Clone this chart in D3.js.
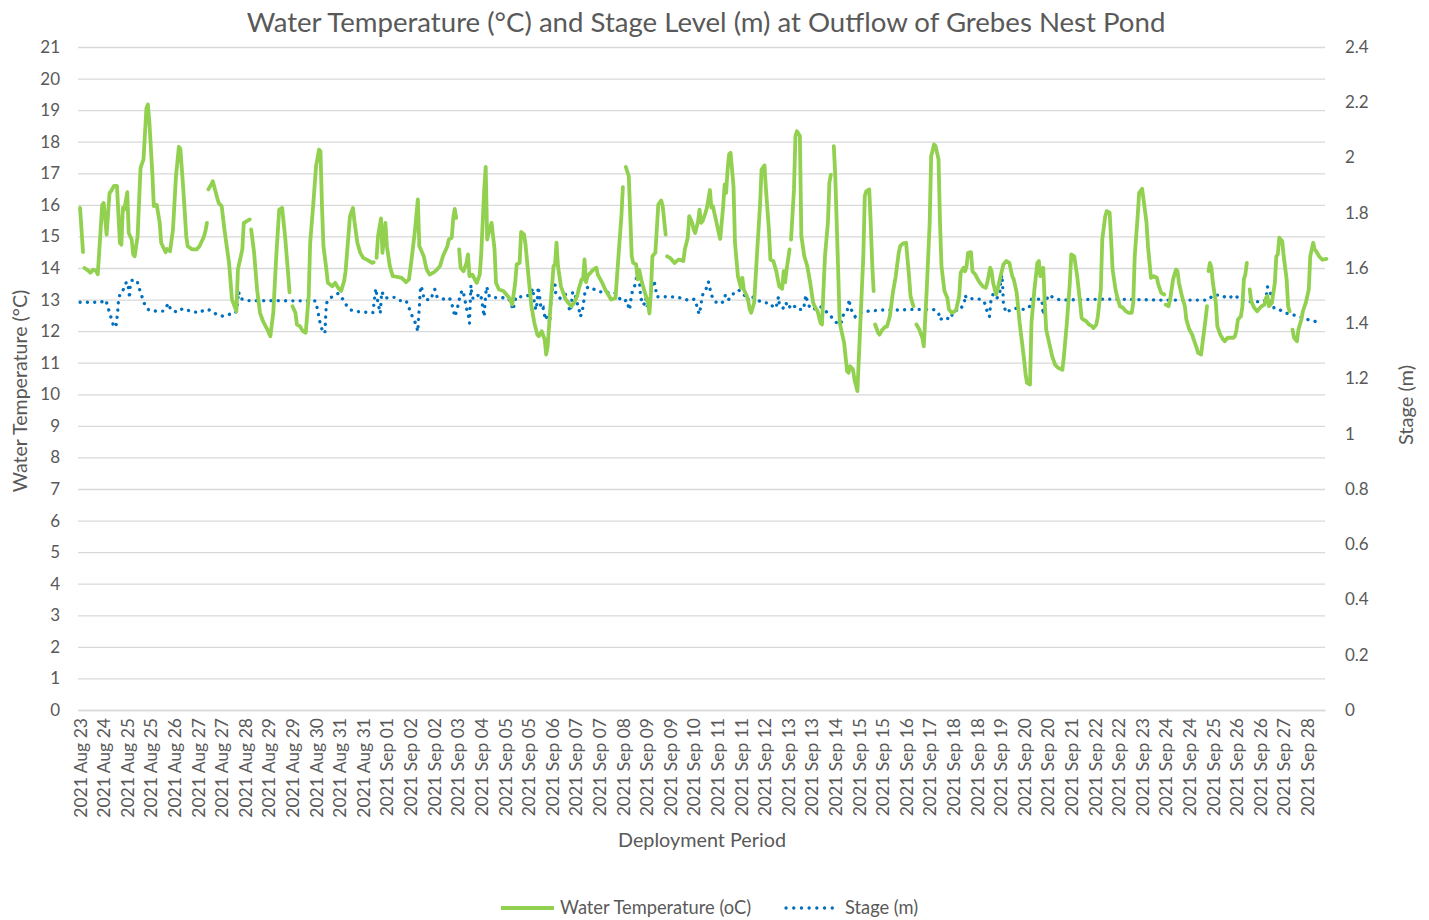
<!DOCTYPE html>
<html>
<head>
<meta charset="utf-8">
<script src="https://cdn.jsdelivr.net/npm/d3@7"></script>
<style>
  body { margin: 0; background: #fff; }
  #chart { width: 1429px; height: 920px; }
</style>
</head>
<body>
<div id="chart"></div>
<script>
// x labels, one every 16 logger hours
const tickLabels = [
  "2021 Aug 23","2021 Aug 24","2021 Aug 25","2021 Aug 25","2021 Aug 26","2021 Aug 27","2021 Aug 27",
  "2021 Aug 28","2021 Aug 29","2021 Aug 29","2021 Aug 30","2021 Aug 31","2021 Aug 31","2021 Sep 01",
  "2021 Sep 02","2021 Sep 02","2021 Sep 03","2021 Sep 04","2021 Sep 05","2021 Sep 05","2021 Sep 06",
  "2021 Sep 07","2021 Sep 07","2021 Sep 08","2021 Sep 09","2021 Sep 09","2021 Sep 10","2021 Sep 11",
  "2021 Sep 11","2021 Sep 12","2021 Sep 13","2021 Sep 13","2021 Sep 14","2021 Sep 15","2021 Sep 15",
  "2021 Sep 16","2021 Sep 17","2021 Sep 18","2021 Sep 18","2021 Sep 19","2021 Sep 20","2021 Sep 20",
  "2021 Sep 21","2021 Sep 22","2021 Sep 22","2021 Sep 23","2021 Sep 24","2021 Sep 24","2021 Sep 25",
  "2021 Sep 26","2021 Sep 26","2021 Sep 27","2021 Sep 28"
];
const labelEvery = 16;
const tempTicks = d3.range(0, 22);
const stageTicks = [0, 0.2, 0.4, 0.6, 0.8, 1, 1.2, 1.4, 1.6, 1.8, 2, 2.2, 2.4];

// [hour, water temperature °C]; null = logger gap
const tempSeries = [
  [0,15.9],[2,14.5], null,
  [3,14.0],[6,13.9],[7,13.85],[9,13.95],[11,13.9],[12,13.8],[15,16.0],[16,16.06],[18,15.06],[20,16.38],
  [21,16.43],[23,16.6],[25,16.6],[27,14.8],[28,14.74],[29,15.9],[30,15.85],[32,16.4],[33,15.11],[35,14.9],
  [36,14.43],[37,14.37],[39,15.0],[41,17.17],[43,17.44],[45,19.07],[46,19.18],[47,18.6],[49,17.0],[50,15.96],
  [52,16.0],[54,15.43],[55,14.8],[58,14.5],[59,14.6],[61,14.53],[63,15.22],[65,16.9],[67,17.84],[68,17.77],
  [70,16.49],[72,15.0],[73,14.69],[76,14.59],[79,14.59],[81,14.69],[84,15.0],[85,15.17],[86,15.43], null,
  [87,16.49],[89,16.65],[90,16.75],[93,16.22],[94,16.06],[96,15.96],[98,15.17],[101,14.16],[103,13.0],
  [106,12.63],[107,13.95],[110,14.59],[111,15.43],[113,15.48],[115,15.54], null,
  [116,15.22],[118,14.48],[120,13.32],[122,12.58],[124,12.32],[127,12.05],[129,11.84],[131,12.58],[133,14.37],
  [135,15.85],[137,15.9],[139,15.0],[141,13.85],[142,13.23], null,
  [144,12.79],[146,12.58],[147,12.21],[149,12.16],[151,12.0],[153,11.95],[155,13.11],[156,14.8],[158,15.96],
  [160,17.23],[162,17.75],[163,17.7],[164,15.96],[165,14.69],[167,13.95],[168,13.53],[171,13.42],[173,13.53],
  [175,13.37],[177,13.27],[179,13.58],[180,13.9],[183,15.64],[185,15.9],[186,15.48],[188,14.8],[190,14.48],
  [192,14.32],[195,14.25],[198,14.16],[199,14.18], null,
  [201,14.32],[202,15.0],[204,15.57],[205,14.48],[207,15.43],[208,14.69],[210,14.06],[212,13.74],[215,13.72],
  [218,13.69],[221,13.55],[223,13.64],[225,14.37],[227,15.17],[229,16.17],[230,14.69],[231,14.59],[233,14.37],
  [235,13.95],[237,13.79],[240,13.87],[242,13.95],[244,14.06],[246,14.37],[249,14.69],[250,14.9],[252,14.96],
  [253,15.59],[254,15.87],[255,15.59], null,
  [257,14.59],[258,14.01],[260,13.9],[262,14.16],[263,14.43],[264,13.74],[266,13.79],[268,13.6],[269,13.53],
  [271,13.8],[272,14.48],[274,16.49],[275,17.2],[276,14.9],[277,15.11],[279,15.43],[281,14.59],[282,13.53],
  [284,13.32],[287,13.27],[289,13.16],[291,13.05],[293,12.84],[295,13.53],[296,14.11],[298,14.16],[299,15.14],
  [301,15.06],[302,14.74],[304,13.74],[306,12.79],[308,12.26],[310,11.89],[311,11.84],[313,12.0],[315,11.73],
  [316,11.26],[317,11.52],[319,12.84],[321,14.06],[322,14.11],[323,14.8],[324,14.06],[326,13.42],[328,13.16],
  [329,13.02],[331,12.9],[333,12.79],[335,12.9],[337,13.11],[338,13.32],[340,13.64],[341,13.64],[342,14.27],
  [343,13.55],[344,13.74],[346,13.85],[348,13.95],[350,14.01],[351,13.79],[354,13.53],[356,13.32],[358,13.16],
  [360,13.0],[363,13.05],[365,14.37],[367,15.64],[368,16.56], null,
  [370,17.2],[372,16.91],[374,14.37],[375,14.16],[377,14.11],[378,13.64],[379,13.95],[381,13.53],[383,13.21],
  [385,12.9],[386,12.56],[387,13.21],[388,14.37],[390,14.48],[391,15.22],[392,16.01],[394,16.14],[395,15.96],
  [397,15.06], null,
  [398,14.37],[400,14.32],[401,14.27],[403,14.16],[405,14.24],[406,14.27],[409,14.22],[410,14.59],[412,14.96],
  [413,15.64],[415,15.43],[416,15.22],[417,15.11],[419,15.48],[420,15.85],[421,15.43],[422,15.48],[424,15.75],
  [425,15.91],[427,16.47],[428,15.91],[429,15.96],[431,15.54],[433,15.11],[434,14.92],[436,15.96],[437,16.65],
  [438,16.38],[439,17.12],[440,17.6],[441,17.65],[443,16.59],[444,14.8],[446,13.74],[448,13.37],[449,13.69],
  [450,13.32],[452,13.11],[453,12.95],[454,12.69],[455,12.58],[457,12.9],[459,14.5],[461,16.0],[462,17.12],
  [464,17.25],[465,16.49],[467,15.22],[468,14.27],[470,14.22],[472,13.9],[474,13.42],[476,13.34],[477,13.9],
  [478,13.55],[479,13.95],[481,14.59], null,
  [482,14.9],[484,16.49],[485,18.18],[486,18.33],[488,18.18],[489,15.01],[491,14.37],[493,14.06],[495,13.53],
  [497,12.9],[498,12.79],[500,12.63],[502,12.26],[503,12.21],[504,13.32],[505,14.37],[507,15.43],[508,16.7],
  [509,16.96], null,
  [511,17.86],[512,16.9],[514,13.85],[515,12.26],[518,11.63],[520,10.73],[521,10.68],[522,10.89],[523,10.84],
  [524,10.78],[525,10.47],[527,10.1],[529,12.26],[531,14.37],[532,16.28],[533,16.43],[535,16.49],[536,15.43],
  [537,14.16],[538,13.27], null,
  [539,12.21],[541,11.95],[542,11.89],[544,12.05],[546,12.14],[547,12.14],[549,12.47],[551,13.21],[553,13.74],
  [555,14.48],[556,14.69],[558,14.78],[560,14.8],[562,13.74],[563,13.11],[565,12.79], null,
  [567,12.21],[569,12.05],[571,11.79],[572,11.52],[574,13.32],[576,15.43],[577,17.54],[579,17.91],[580,17.86],
  [582,17.44],[583,15.43],[584,14.06],[586,13.27],[588,13.05],[589,12.69],[591,12.58],[593,12.63],[594,12.69],
  [596,13.11],[597,13.85],[599,14.01],[600,13.9],[601,14.06],[602,14.48],[604,14.5],[605,13.9],[607,13.79],
  [608,13.69],[610,13.53],[612,13.42],[614,13.37],[615,13.53],[617,14.01],[618,13.9],[619,13.53],[621,13.16],
  [622,13.32],[624,13.74],[626,14.11],[628,14.22],[630,14.16],[632,13.74],[633,13.64],[635,13.21],[637,12.26],
  [640,11.1],[641,10.63],[642,10.36],[644,10.31],[645,12.26],[647,13.32],[649,14.16],[650,14.22],[651,13.74],
  [653,14.01],[654,12.9],[655,12.05],[657,11.63],[658,11.42],[659,11.21],[661,10.94],[663,10.84],[666,10.78],
  [667,11.21],[669,12.26],[671,13.53],[672,14.43],[674,14.37],[676,13.74],[678,12.9],[679,12.42],[680,12.37],
  [682,12.32],[684,12.21],[686,12.16],[687,12.1],[689,12.21],[690,12.47],[692,13.32],[693,14.9],[695,15.64],
  [696,15.8],[698,15.75],[699,14.9],[700,13.95],[702,13.32],[703,13.11],[705,12.79],[707,12.74],[709,12.63],
  [710,12.6],[711,12.58],[713,12.58],[714,12.9],[715,14.37],[717,15.64],[718,16.38],[720,16.51],[721,16.17],
  [723,15.43],[724,14.69],[726,13.69],[728,13.74],[730,13.69],[731,13.48],[733,13.21],[735,13.16], null,
  [736,12.84],[738,12.79],[739,13.0],[741,13.64],[743,13.95],[744,13.9],[745,13.53],[747,13.11],[749,12.79],
  [750,12.37],[752,12.05],[754,11.89],[755,11.73],[757,11.47],[758,11.31],[760,11.26],[761,11.63],[763,12.37],
  [764,12.79], null,
  [765,13.9],[766,14.16],[767,14.01],[768,13.53],[770,12.9],[771,12.16],[773,11.89],[775,11.73],[776,11.68],
  [778,11.79],[780,11.79],[782,11.79],[783,11.84],[784,12.05],[785,12.37],[787,12.47],[788,12.79],[789,13.64],
  [790,13.79],[791,14.16], null,
  [793,13.32],[794,12.95],[796,12.74],[798,12.63],[800,12.74],[801,12.79],[803,12.84],[804,13.05],[805,13.11],
  [806,12.79],[808,12.9],[810,13.53],[811,14.37],[812,14.43],[813,14.96],[815,14.85],[816,14.37],[818,13.64],
  [819,12.79],[820,12.63], null,
  [822,12.05],[823,11.79],[825,11.68],[826,12.05],[828,12.37],[829,12.63],[831,12.9],[833,13.32],[834,14.37],
  [836,14.8],[837,14.59],[838,14.53],[840,14.37],[842,14.27],[843,14.27],[845,14.29]
];

// [hour, stage m]
const stageSeries = [
  [0,1.476],[9,1.476],[14,1.476],[17.5,1.484],[20,1.438],[21.5,1.412],[23,1.385],[24.5,1.394],[25.5,1.44],
  [26,1.478],[27,1.506],[28.5,1.512],[31.5,1.55],[33,1.526],[33.5,1.49],[34,1.532],[35.5,1.559],[39,1.547],
  [40.5,1.52],[43.5,1.472],[46.5,1.448],[51.5,1.444],[56.5,1.444],[60,1.472],[61.5,1.448],[66,1.44],
  [69.5,1.453],[71,1.45],[76,1.442],[81,1.438],[84.5,1.45],[87.5,1.448],[92,1.434],[96.5,1.426],[101,1.432],
  [105.5,1.438],[106.5,1.46],[107.5,1.514],[108.5,1.49],[113,1.482],[159.5,1.481],[161,1.45],[162,1.42],
  [163,1.394],[164.5,1.37],[166,1.364],[166.5,1.424],[167,1.472],[169,1.49],[172,1.499],[175,1.508],[178,1.488],
  [180.5,1.466],[183.5,1.448],[188,1.442],[198.5,1.438],[200.5,1.526],[202,1.472],[203.5,1.436],[204.5,1.514],
  [207,1.49],[209,1.494],[213,1.494],[216.5,1.482],[221,1.482],[224,1.442],[226,1.414],[227.5,1.4],[229,1.37],
  [229.5,1.424],[230,1.454],[230.5,1.508],[231,1.535],[232.5,1.514],[233,1.487],[237.5,1.484],[240.5,1.523],
  [242,1.496],[246,1.487],[248.5,1.494],[251,1.487],[252.5,1.46],[253.5,1.438],[254,1.424],[255.5,1.448],
  [257.5,1.496],[259,1.52],[260,1.508],[261,1.482],[262,1.454],[263.5,1.424],[264,1.4],[264.5,1.472],[265,1.538],
  [265.5,1.508],[266.5,1.487],[269,1.496],[271,1.508],[272.5,1.484],[273,1.454],[274,1.424],[274.5,1.472],
  [275.5,1.532],[276,1.526],[277.5,1.496],[281.5,1.493],[285.5,1.493],[290.5,1.49],[292.5,1.466],[293.5,1.448],
  [295.5,1.496],[300.5,1.496],[305,1.502],[307,1.526],[308,1.472],[309,1.448],[310,1.478],[310.5,1.532],
  [311.5,1.502],[312,1.472],[313,1.448],[314,1.454],[315.5,1.412],[316.5,1.424],[317.5,1.426],[318.5,1.4],
  [319,1.46],[320,1.508],[320.5,1.544],[321.5,1.532],[322,1.544],[322.5,1.508],[325.5,1.49],[329,1.505],
  [331,1.472],[332,1.442],[333,1.46],[334,1.514],[335.5,1.506],[336.5,1.478],[338,1.46],[339,1.424],[340,1.433],
  [341,1.46],[342.5,1.52],[344.5,1.532],[348,1.524],[352.5,1.514],[357,1.511],[362.5,1.511],[367,1.482],
  [368.5,1.478],[370.5,1.484],[372.5,1.448],[374,1.508],[375,1.52],[376.5,1.544],[377.5,1.575],[378.5,1.544],
  [379.5,1.538],[380,1.496],[381.5,1.466],[383,1.472],[383.5,1.49],[384.5,1.46],[385.5,1.496],[386.5,1.472],
  [387,1.514],[388.5,1.544],[389,1.556],[390,1.532],[391,1.496],[395.5,1.496],[403.5,1.495],[409,1.49],
  [412.5,1.482],[416,1.487],[417.5,1.482],[418.5,1.448],[420,1.433],[421.5,1.487],[422.5,1.511],[424.5,1.526],
  [426,1.55],[427,1.526],[428,1.502],[430.5,1.478],[434,1.47],[436,1.478],[437.5,1.502],[439.5,1.484],
  [442,1.505],[444,1.508],[446.5,1.52],[449.5,1.508],[451,1.496],[452.5,1.482],[454.5,1.499],[457.5,1.49],
  [459,1.484],[463,1.475],[468,1.472],[470.5,1.454],[472,1.46],[473.5,1.496],[474,1.472],[476.5,1.454],
  [478.5,1.475],[480,1.454],[483,1.47],[486,1.45],[490.5,1.45],[492,1.502],[492.5,1.49],[494,1.466],[495,1.454],
  [496.5,1.45],[499,1.454],[501,1.462],[504,1.454],[506.5,1.438],[511,1.414],[514,1.394],[516.5,1.406],
  [517.5,1.43],[520,1.442],[521,1.472],[521.5,1.487],[522,1.46],[524,1.436],[525.5,1.424],[527,1.433],
  [529,1.438],[532,1.442],[536.5,1.445],[544,1.448],[555,1.448],[564.5,1.45],[578.5,1.45],[582,1.438],
  [583,1.412],[585.5,1.422],[590,1.414],[592,1.442],[594.5,1.448],[596,1.445],[599.5,1.472],[600,1.502],
  [601,1.49],[610,1.487],[613,1.478],[614.5,1.45],[616.5,1.424],[617.5,1.482],[619,1.506],[621.5,1.49],
  [623.5,1.506],[624,1.544],[625,1.575],[625.5,1.532],[626,1.466],[628,1.438],[631,1.45],[635,1.454],[640,1.45],
  [643.5,1.458],[645,1.487],[652,1.487],[652.5,1.462],[653,1.43],[653.5,1.46],[656.5,1.502],[661,1.49],
  [664.5,1.484],[690.5,1.487],[705,1.487],[733,1.484],[764.5,1.484],[768.5,1.502],[773.5,1.502],[778,1.49],
  [783,1.502],[786.5,1.484],[793.5,1.478],[799,1.478],[803.5,1.482],[804.5,1.508],[805,1.532],[807,1.511],
  [808,1.482],[809.5,1.454],[813.5,1.448],[818,1.436],[822.5,1.43],[827,1.424],[831.5,1.414],[836,1.409],
  [840,1.402]
];

const W = 1429, H = 920;
const margin = { top: 47, right: 104, bottom: 210, left: 78 };
const width = W - margin.left - margin.right;   // 1247
const height = H - margin.top - margin.bottom;  // 663
const textColor = "#595959";
const font = "Lato, 'Open Sans', sans-serif";

const svg = d3.select("#chart").append("svg")
  .attr("width", W)
  .attr("height", H)
  .style("font-family", font);

const g = svg.append("g")
  .attr("transform", `translate(${margin.left},${margin.top})`);

const x = d3.scaleLinear().domain([-1.4, 844]).range([0, width]);
const yT = d3.scaleLinear().domain([0, 21]).range([height, 0]);
const yS = d3.scaleLinear().domain([0, 2.4]).range([height, 0]);

// Title
svg.append("text")
  .attr("x", 706)
  .attr("y", 32)
  .attr("text-anchor", "middle")
  .style("font-size", "27.6px")
  .style("fill", textColor)
  .text("Water Temperature (°C) and Stage Level (m) at Outflow of Grebes Nest Pond");

// Gridlines + left axis
const leftAxis = g.append("g")
  .call(d3.axisLeft(yT).tickValues(tempTicks).tickSize(-width).tickPadding(18));
leftAxis.select(".domain").remove();
leftAxis.selectAll(".tick line")
  .style("stroke", "#d9d9d9")
  .style("stroke-width", 1.3);
leftAxis.selectAll("text")
  .style("font-size", "17px")
  .style("fill", textColor)
  .style("font-family", font);

// Right axis
const rightAxis = g.append("g")
  .attr("transform", `translate(${width},0)`)
  .call(d3.axisRight(yS).tickValues(stageTicks).tickSize(0).tickPadding(20)
    .tickFormat(d => String(+d.toFixed(1))));
rightAxis.select(".domain").remove();
rightAxis.selectAll("text")
  .style("font-size", "17px")
  .style("fill", textColor)
  .style("font-family", font);

// Bottom axis with rotated date labels
const xAxis = g.append("g")
  .attr("transform", `translate(0,${height})`)
  .call(d3.axisBottom(x)
    .tickValues(tickLabels.map((d, i) => i * labelEvery))
    .tickFormat((d, i) => tickLabels[i])
    .tickSize(0));
xAxis.select(".domain")
  .style("stroke", "#d9d9d9")
  .style("stroke-width", 1.3);
xAxis.selectAll("text")
  .attr("transform", "translate(0,8) rotate(-90)")
  .attr("x", 0)
  .attr("y", 0)
  .attr("dy", "0.35em")
  .attr("text-anchor", "end")
  .style("font-size", "17.5px")
  .style("fill", textColor)
  .style("font-family", font);

// Series
const tempLine = d3.line()
  .defined(d => d !== null)
  .x(d => x(d[0]))
  .y(d => yT(d[1]));

const stageLine = d3.line()
  .x(d => x(d[0]))
  .y(d => yS(d[1]));

g.append("path")
  .datum(stageSeries)
  .attr("fill", "none")
  .attr("stroke", "#0070C0")
  .attr("stroke-width", 3.3)
  .attr("stroke-linecap", "round")
  .attr("stroke-dasharray", "0.1 7.2")
  .attr("d", stageLine);

g.append("path")
  .datum(tempSeries)
  .attr("fill", "none")
  .attr("stroke", "#92D050")
  .attr("stroke-width", 3.8)
  .attr("stroke-linejoin", "round")
  .attr("stroke-linecap", "round")
  .attr("d", tempLine);

// Axis titles
svg.append("text")
  .attr("transform", "translate(20,391) rotate(-90)")
  .attr("text-anchor", "middle")
  .attr("dy", "0.35em")
  .style("font-size", "19.6px")
  .style("fill", textColor)
  .text("Water Temperature (°C)");

svg.append("text")
  .attr("transform", "translate(1406,405) rotate(-90)")
  .attr("text-anchor", "middle")
  .attr("dy", "0.35em")
  .style("font-size", "20px")
  .style("fill", textColor)
  .text("Stage (m)");

svg.append("text")
  .attr("x", 702)
  .attr("y", 840)
  .attr("dy", "0.35em")
  .attr("text-anchor", "middle")
  .style("font-size", "19.8px")
  .style("fill", textColor)
  .text("Deployment Period");

// Legend
const legend = svg.append("g").attr("transform", "translate(0,908)");
legend.append("line")
  .attr("x1", 501).attr("x2", 554)
  .attr("stroke", "#92D050")
  .attr("stroke-width", 3.8);
legend.append("text")
  .attr("x", 560)
  .attr("dy", "0.35em")
  .style("font-size", "18.3px")
  .style("fill", textColor)
  .text("Water Temperature (oC)");
legend.append("line")
  .attr("x1", 786).attr("x2", 834)
  .attr("stroke", "#0070C0")
  .attr("stroke-width", 3.3)
  .attr("stroke-linecap", "round")
  .attr("stroke-dasharray", "0.1 7.6");
legend.append("text")
  .attr("x", 845)
  .attr("dy", "0.35em")
  .style("font-size", "18.3px")
  .style("fill", textColor)
  .text("Stage (m)");
</script>
</body>
</html>
